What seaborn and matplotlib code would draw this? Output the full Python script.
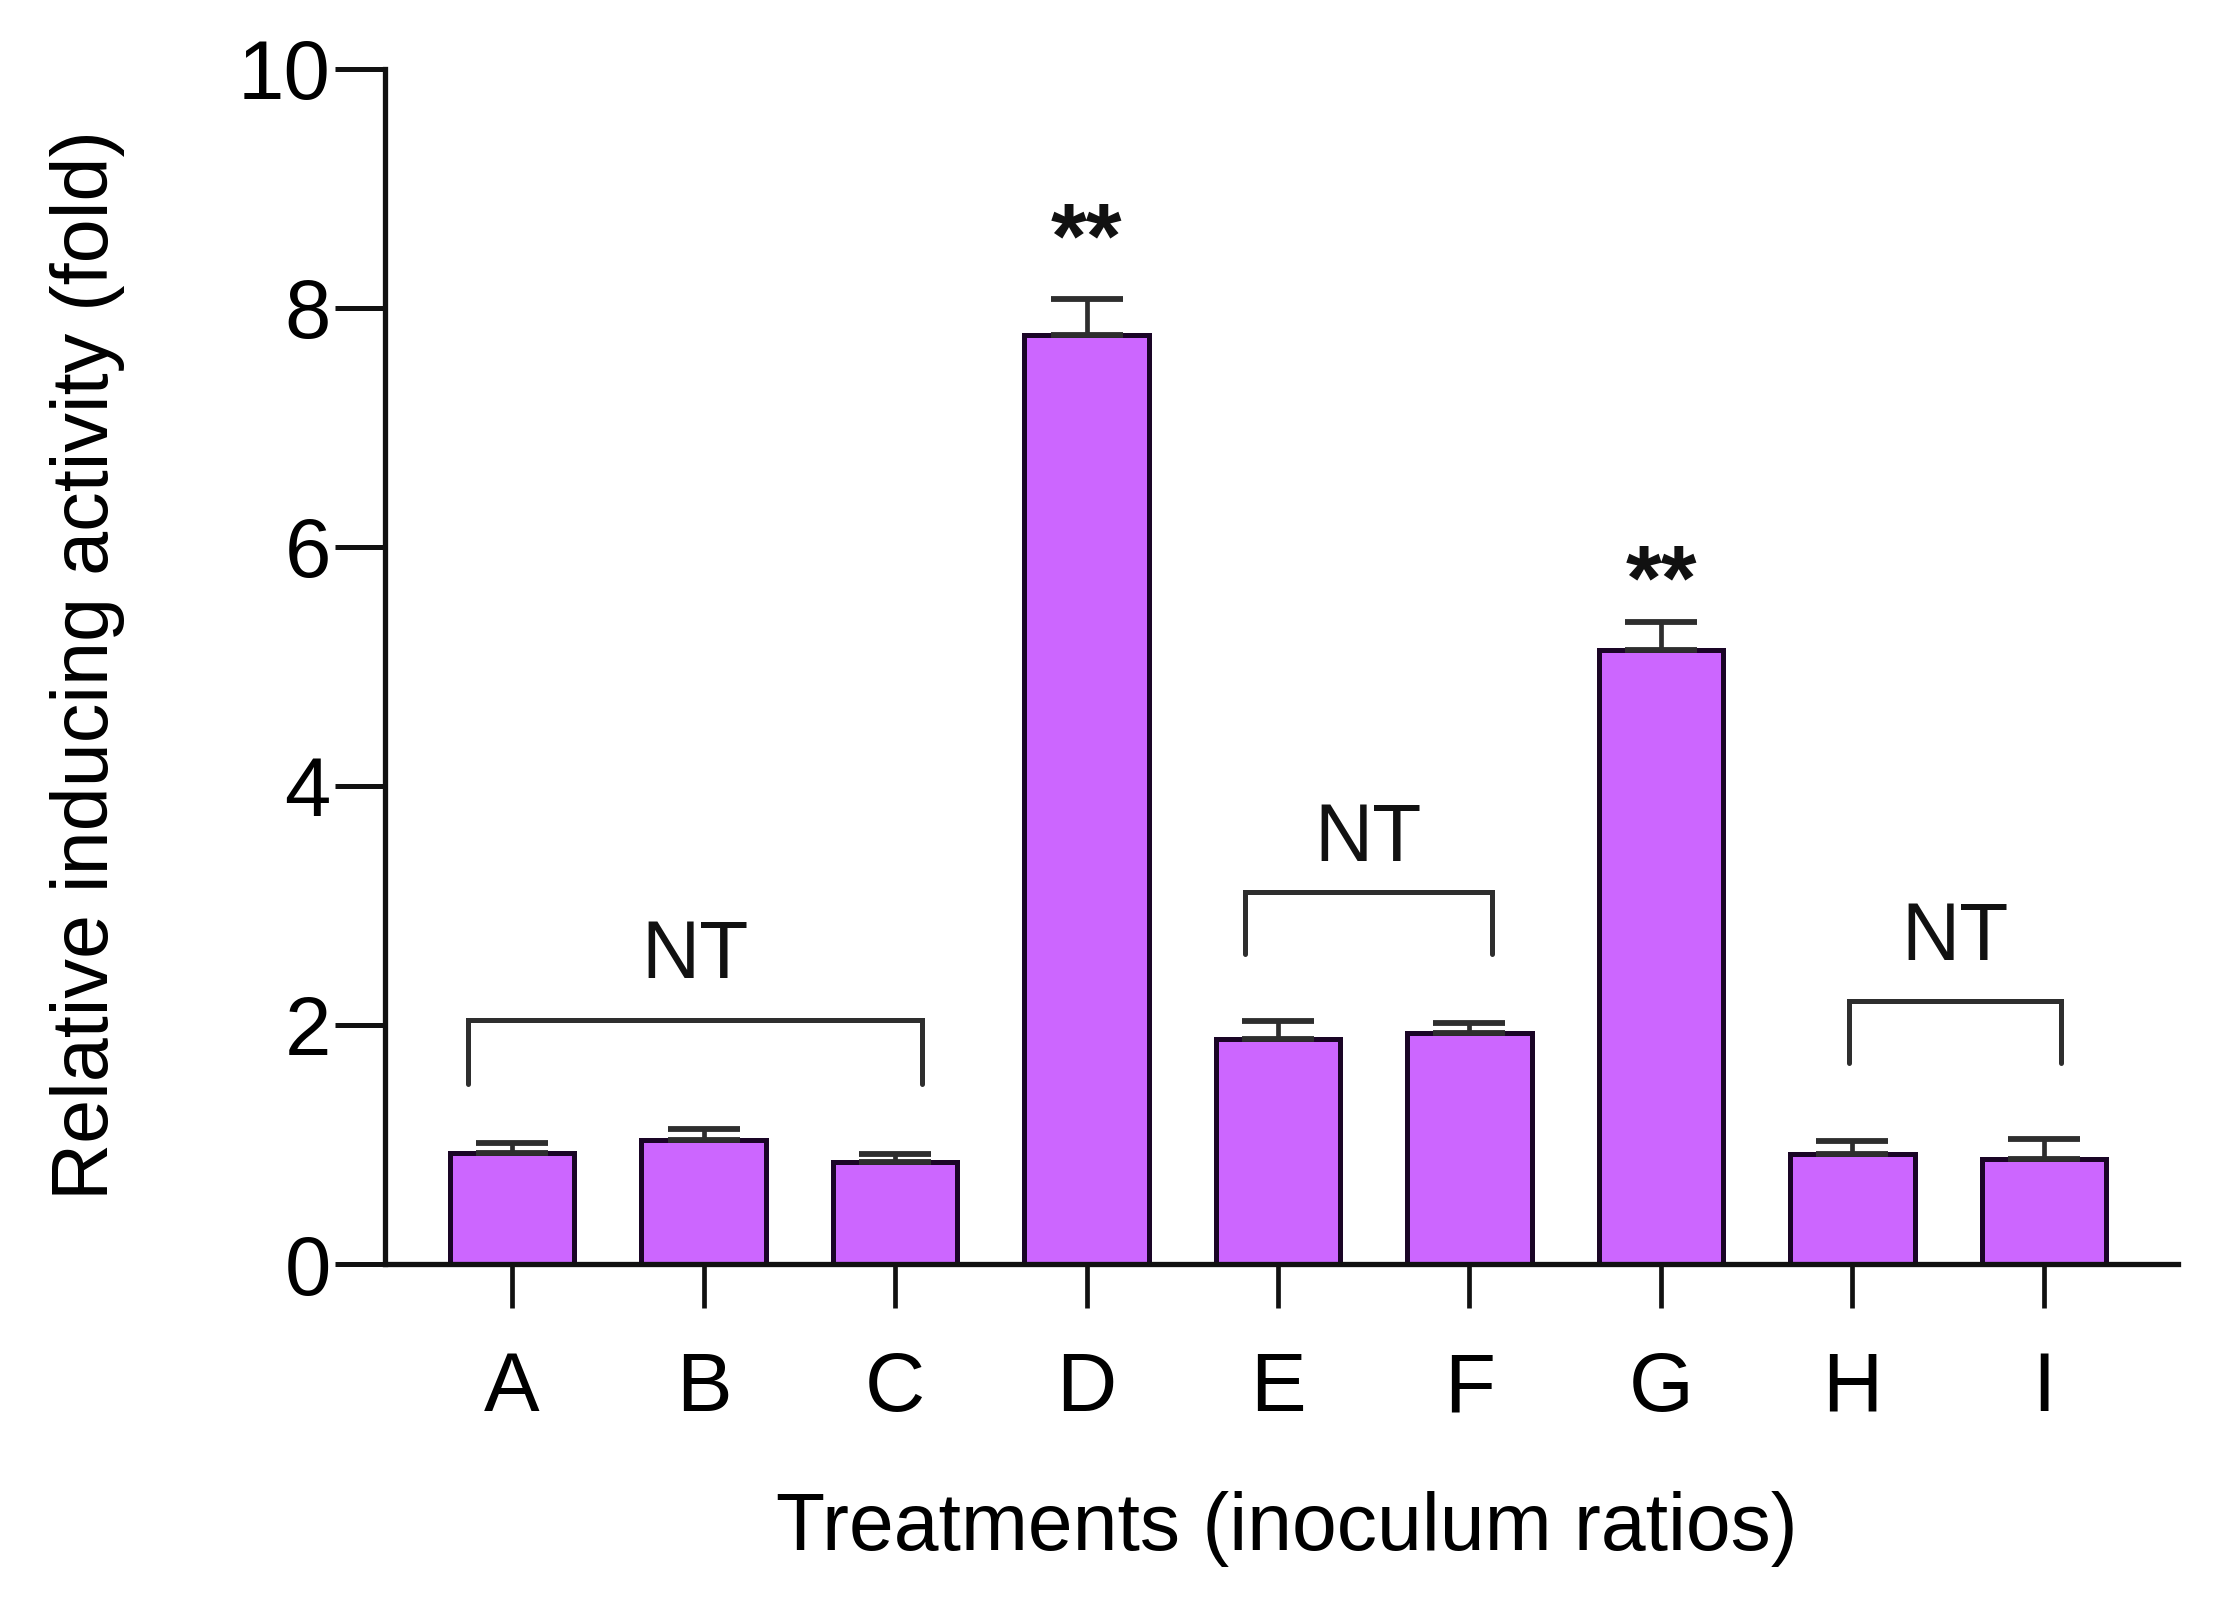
import pandas as pd
import numpy as np
import matplotlib
matplotlib.use("Agg")
import matplotlib.pyplot as plt
import seaborn as sns

# values (fold change, upper SEM only)
treatments = ["A", "B", "C", "D", "E", "F", "G", "H", "I"]
activity = [0.93, 1.04, 0.85, 7.77, 1.88, 1.93, 5.14, 0.92, 0.88]
sem = [0.08, 0.09, 0.07, 0.30, 0.15, 0.09, 0.23, 0.11, 0.17]

# significance marks
star_bars = ["D", "G"]
star_text = ["**", "**"]
nt_groups = [("A", "C"), ("E", "F"), ("H", "I")]

fill = "#CC66FF"
edge = "#1a0526"
line_col = "#2e2e2e"

sns.set_style("ticks")
plt.rcParams["font.family"] = ["Liberation Sans", "DejaVu Sans"]
plt.rcParams.update({"text.color": "black", "axes.labelcolor": "black",
                     "xtick.color": "black", "ytick.color": "black"})

df = pd.DataFrame({"treatment": treatments, "activity": activity, "sem": sem})

fig = plt.figure(figsize=(22.17, 15.98), dpi=100)
ax = fig.add_axes([0.1737, 0.209, 0.8087, 0.748])

sns.barplot(data=df, x="treatment", y="activity", color=fill, saturation=1,
            edgecolor=edge, linewidth=3.6, width=0.65, errorbar=None, ax=ax)

xpos = np.arange(len(treatments))
ax.errorbar(xpos, df["activity"], yerr=[np.zeros(len(sem)), df["sem"]],
            fmt="none", ecolor=line_col, elinewidth=3.4, capsize=26,
            capthick=4.2, zorder=1)

# ** above the significant bars
star_y = [8.34, 5.48]
for lab, txt, yy in zip(star_bars, star_text, star_y):
    ax.text(treatments.index(lab), yy, txt, ha="center", va="baseline",
            fontsize=66, fontweight="bold", color="#111111")

# NT brackets
brk = [(-0.23, 0.14, 2.04, 1.51, 2.39),
       (-0.17, 0.115, 3.11, 2.59, 3.375),
       (-0.02, 0.09, 2.20, 1.68, 2.54)]
for (a, b), (da, db, top, bot, ty) in zip(nt_groups, brk):
    x0 = treatments.index(a) + da
    x1 = treatments.index(b) + db
    ax.plot([x0, x0, x1, x1], [bot, top, top, bot], color=line_col,
            lw=3.6, solid_joinstyle="miter", clip_on=False)
    ax.text((x0 + x1) / 2, ty, "NT", ha="center", va="baseline",
            fontsize=58, color="#111111")

ax.set_xlim(-0.663, 8.70)
ax.set_ylim(0, 10)
ax.set_yticks([0, 2, 4, 6, 8, 10])
sns.despine(ax=ax)
for s in ["left", "bottom"]:
    ax.spines[s].set_linewidth(3.8)
    ax.spines[s].set_color("#111111")

ax.tick_params(axis="y", direction="out", length=36, width=3.6,
               pad=3, labelsize=60, color="#111111")
ax.tick_params(axis="x", direction="out", length=32, width=3.4,
               pad=30, labelsize=60, color="#111111")

ax.set_xlabel("Treatments (inoculum ratios)", fontsize=58)
ax.set_ylabel("Relative inducing activity (fold)", fontsize=57)
ax.xaxis.set_label_coords(0.503, -0.19)
ax.yaxis.set_label_coords(-0.145, 0.501)

fig.savefig("out.png", dpi=100, facecolor="white")
